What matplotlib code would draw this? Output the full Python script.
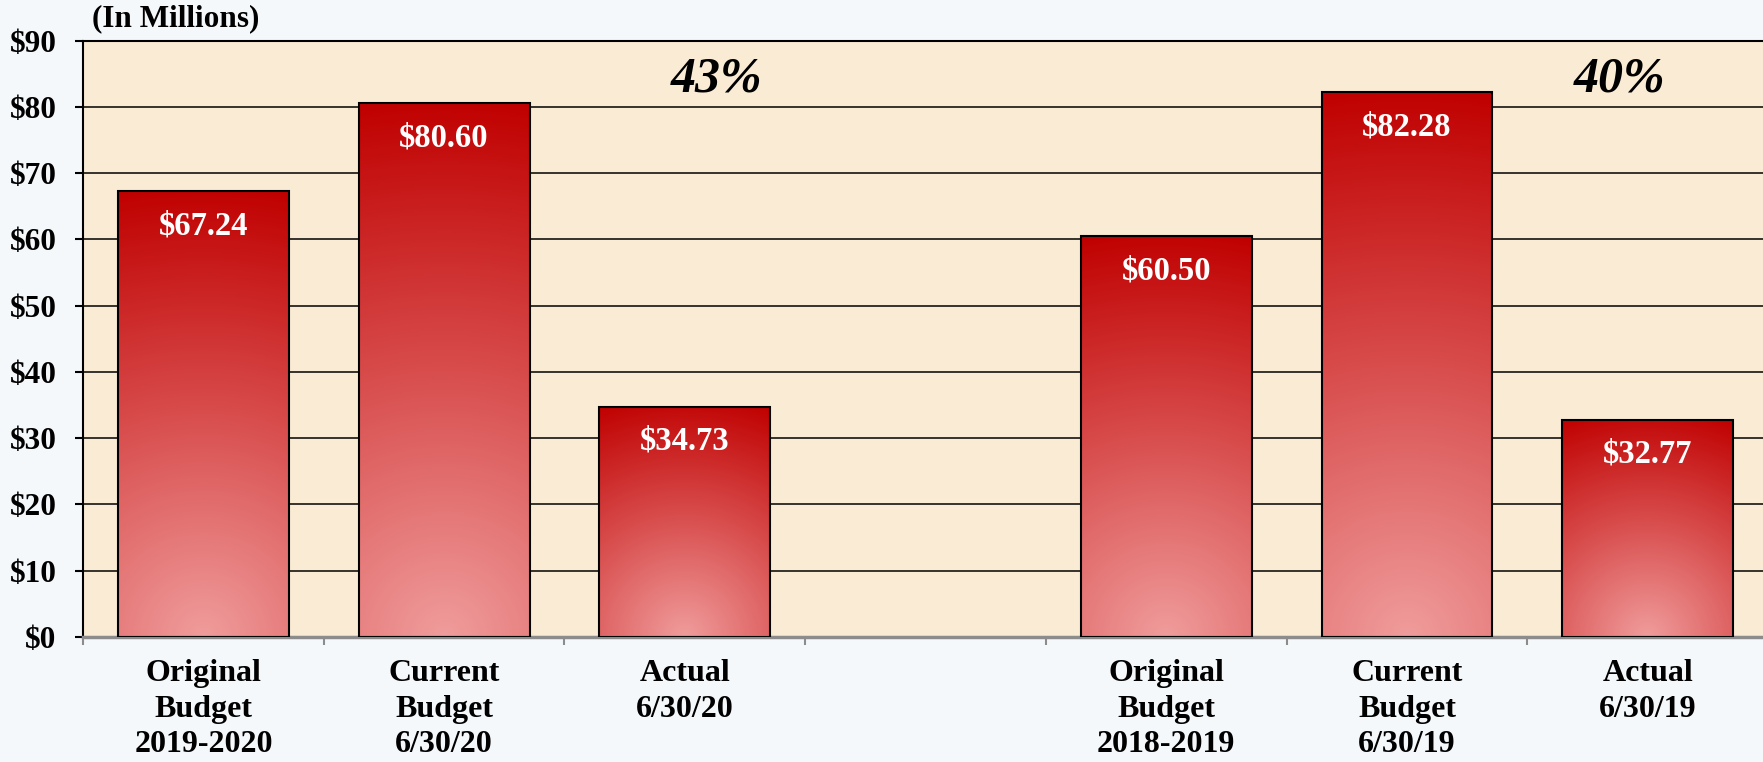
import numpy as np
import matplotlib.pyplot as plt
from matplotlib.colors import LinearSegmentedColormap

labels = ["Original\nBudget\n2019-2020", "Current\nBudget\n6/30/20", "Actual\n6/30/20", "",
          "Original\nBudget\n2018-2019", "Current\nBudget\n6/30/19", "Actual\n6/30/19"]
values = [67.24, 80.60, 34.73, np.nan, 60.50, 82.28, 32.77]
pct_labels = ["43%", "40%"]
yticks = list(range(0, 100, 10))

plt.rcParams['font.family'] = ['Liberation Serif', 'DejaVu Serif']
plt.rcParams['font.weight'] = 'bold'

fig = plt.figure(figsize=(17.63, 7.62), dpi=100, facecolor='#F5F8FA')
ax_pos = [0.0471, 0.1644, 0.9558, 0.7822]
ax = fig.add_axes(ax_pos)
ax.set_facecolor('#FAECD4')

cmap = LinearSegmentedColormap.from_list('bar', ['#F09C9C', '#D84C4C', '#C00000'])
x = np.arange(len(labels))
bw = 0.71

# pixels per data unit, to keep the radial gradient round on screen
px_x = 1763 * ax_pos[2] / len(labels)
px_y = 762 * ax_pos[3] / 90

for xi, v in zip(x, values):
    if np.isnan(v):
        continue
    half_w = bw / 2 * px_x
    h = v * px_y
    gx = np.linspace(-half_w, half_w, 200)
    gy = np.linspace(0, h, 400)
    GX, GY = np.meshgrid(gx, gy)
    grad = np.sqrt(GX**2 + GY**2) / np.hypot(half_w, h)
    ax.imshow(grad, cmap=cmap, vmin=0, vmax=1, origin='lower',
              extent=[xi - bw / 2, xi + bw / 2, 0, v], aspect='auto', zorder=2)
    ax.bar(xi, v, width=bw, color='none', edgecolor='black', linewidth=1.5, zorder=3)
    ax.annotate(f"${v:.2f}", xy=(xi, v), xytext=(0, -25), textcoords='offset points',
                ha='center', va='center', color='white', fontsize=23.5, fontweight='bold', zorder=4)

# percentage notes above each group
ax.text(2.13, 84.2, pct_labels[0], fontsize=36, fontstyle='italic', fontweight='bold',
        ha='center', va='center')
ax.text(5.885, 84.2, pct_labels[1], fontsize=36, fontstyle='italic', fontweight='bold',
        ha='center', va='center')

ax.set_xlim(-0.5, len(labels) - 0.5)
ax.set_ylim(0, 90)

ax.set_yticks(yticks)
ax.set_yticklabels([f"${v}" for v in yticks], fontsize=22.5, fontweight='bold')
ax.tick_params(axis='y', length=6, width=1.5, color='black', pad=13)
ax.yaxis.grid(True, color='black', linewidth=1.1)
ax.set_axisbelow(True)

ax.set_xticks(x)
ax.set_xticklabels(labels, fontsize=23, fontweight='bold', linespacing=1.3)
ax.tick_params(axis='x', which='major', length=0, pad=16)
ax.set_xticks(np.arange(-0.5, len(labels)), minor=True)
ax.tick_params(axis='x', which='minor', length=6, width=1.5, color='#8C8C8C')

ax.spines['top'].set_linewidth(1.5)
ax.spines['left'].set_linewidth(1.5)
ax.spines['bottom'].set_color('#8C8C8C')
ax.spines['bottom'].set_linewidth(2.5)
ax.spines['right'].set_visible(False)

fig.text(92 / 1763, 0.976, "(In Millions)", fontsize=22.5, fontweight='bold', ha='left', va='center')

fig.savefig('out.png', dpi=100, facecolor=fig.get_facecolor())
